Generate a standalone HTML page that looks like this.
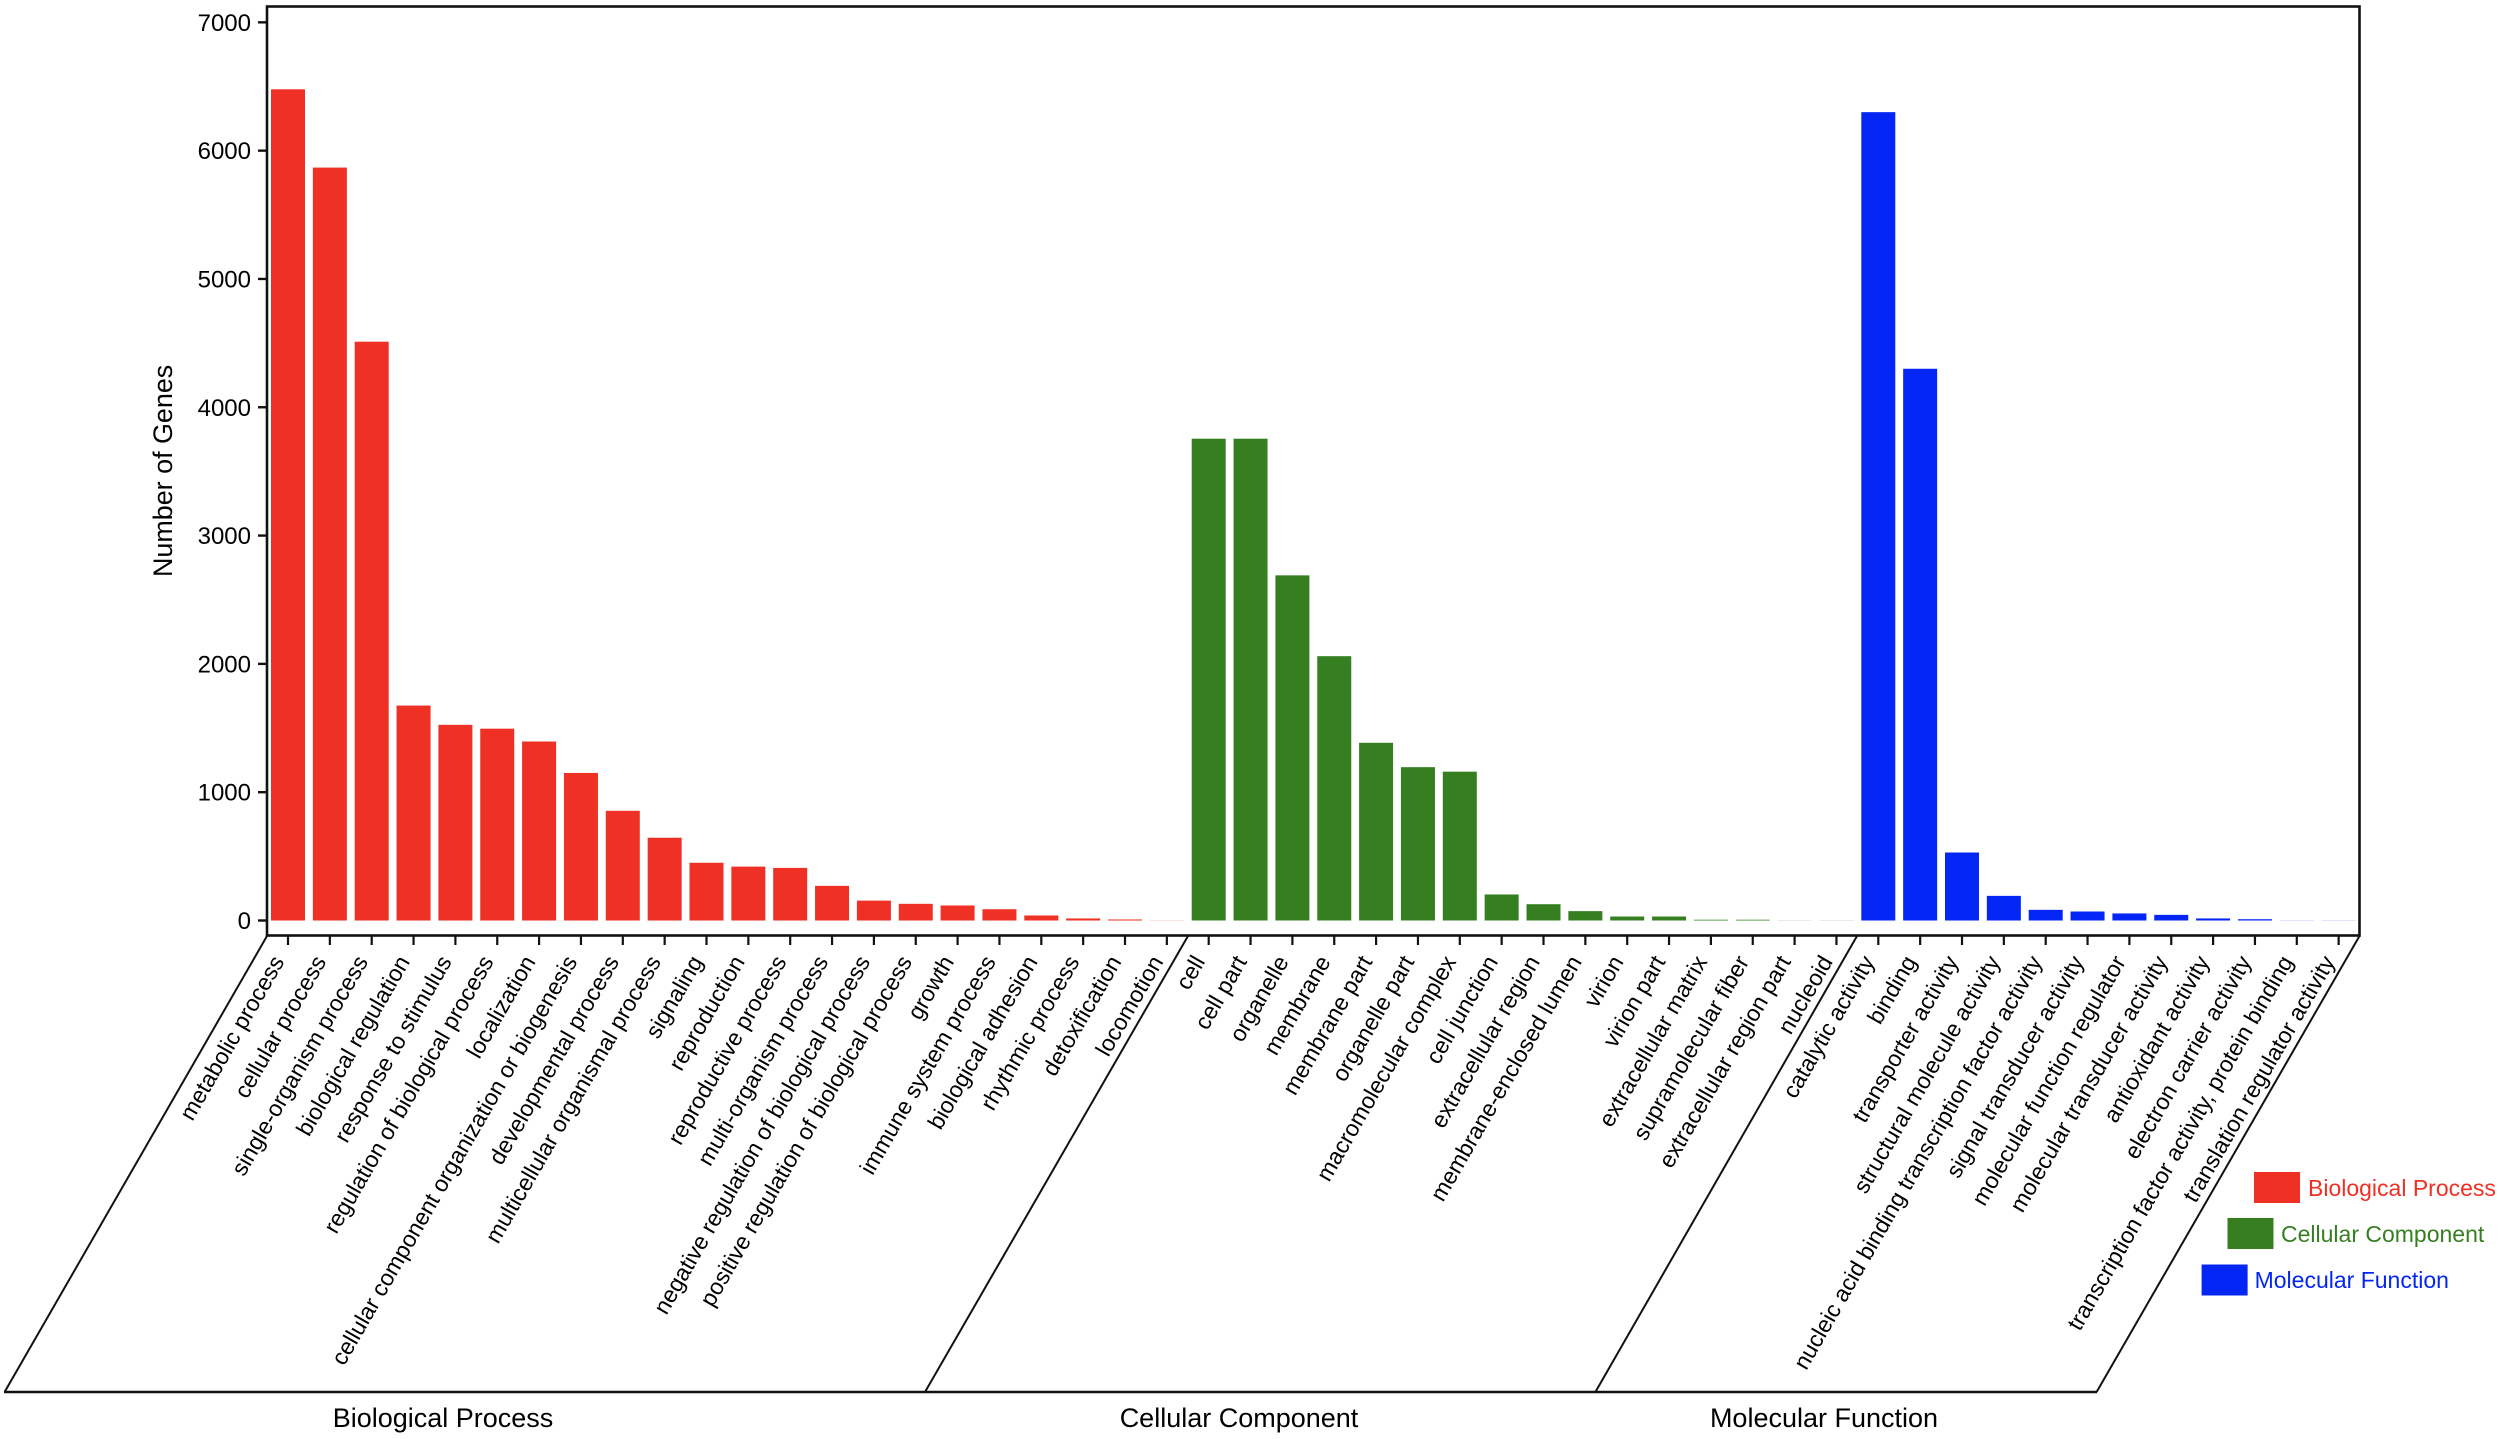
<!DOCTYPE html>
<html lang="en">
<head>
<meta charset="utf-8">
<title>GO classification bar chart</title>
<style>
html,body{margin:0;padding:0;background:#fff;}
svg{display:block;}
text{font-family:"Liberation Sans",Arial,sans-serif;fill:#000;}
</style>
</head>
<body>
<svg id="chart" xmlns="http://www.w3.org/2000/svg" width="2500" height="1439" viewBox="0 0 2500 1439">
  <rect x="0" y="0" width="2500" height="1439" fill="#fff"/>
  <g id="bars"></g>
  <rect x="267" y="6.5" width="2092.5" height="929" fill="none" stroke="#111" stroke-width="2.6"/>
  <g id="yaxis"></g>
  <g id="xaxis"></g>
  <g fill="none" stroke="#111" stroke-width="2">
    <line x1="267" y1="936" x2="4.6" y2="1392"/>
    <line x1="1188" y1="936" x2="925" y2="1392"/>
    <line x1="1857" y1="936" x2="1595.4" y2="1392"/>
    <line x1="2359.5" y1="936" x2="2096.6" y2="1392"/>
    <line x1="4" y1="1392" x2="2097" y2="1392" stroke-width="2.4"/>
  </g>
  <text transform="translate(172,577) rotate(-90)" font-size="26.9">Number of Genes</text>
  <text x="443" y="1427" font-size="27" text-anchor="middle">Biological Process</text>
  <text x="1239" y="1427" font-size="27" text-anchor="middle">Cellular Component</text>
  <text x="1824" y="1427" font-size="27" text-anchor="middle">Molecular Function</text>
  <g>
    <g>
      <rect x="2254" y="1172" width="46" height="31" fill="#ee3124"/>
      <text x="2308" y="1196" font-size="23" style="fill:#ee3124">Biological Process</text>
    </g>
    <g>
      <rect x="2227.5" y="1218" width="46" height="31" fill="#367f21"/>
      <text x="2281" y="1242" font-size="23" style="fill:#367f21">Cellular Component</text>
    </g>
    <g>
      <rect x="2201.6" y="1264.5" width="46" height="31" fill="#0426f5"/>
      <text x="2254.6" y="1288" font-size="23" style="fill:#0426f5">Molecular Function</text>
    </g>
  </g>
</svg>
<script>
var bpCategories = ["metabolic process","cellular process","single-organism process","biological regulation","response to stimulus","regulation of biological process","localization","cellular component organization or biogenesis","developmental process","multicellular organismal process","signaling","reproduction","reproductive process","multi-organism process","negative regulation of biological process","positive regulation of biological process","growth","immune system process","biological adhesion","rhythmic process","detoxification","locomotion"];
var bpValues = [6478,5868,4511,1675,1525,1495,1395,1150,855,645,450,420,410,270,155,130,117,88,39,16,8,1];
var ccCategories = ["cell","cell part","organelle","membrane","membrane part","organelle part","macromolecular complex","cell junction","extracellular region","membrane-enclosed lumen","virion","virion part","extracellular matrix","supramolecular fiber","extracellular region part","nucleoid"];
var ccValues = [3755,3755,2690,2060,1385,1195,1160,203,127,73,31,31,6,6,1,1];
var mfCategories = ["catalytic activity","binding","transporter activity","structural molecule activity","nucleic acid binding transcription factor activity","signal transducer activity","molecular function regulator","molecular transducer activity","antioxidant activity","electron carrier activity","transcription factor activity, protein binding","translation regulator activity"];
var mfValues = [6300,4300,530,192,83,70,55,44,16,10,1,1];
var yTickLabels = [0,1000,2000,3000,4000,5000,6000,7000];

var NS = "http://www.w3.org/2000/svg";
function xPos(i){ return 288 + i * 41.85; }
function yPos(v){ return 920.5 - v * 0.12831; }
function mk(tag, parent){
  var el = document.createElementNS(NS, tag);
  parent.appendChild(el);
  return el;
}
var barsG = document.getElementById("bars");
var xG = document.getElementById("xaxis");
var yG = document.getElementById("yaxis");

yTickLabels.forEach(function(t){
  var tick = mk("line", yG);
  
  
  tick.setAttribute("x1", 258);
  tick.setAttribute("x2", 267);
  tick.setAttribute("y1", yPos(t));
  tick.setAttribute("y2", yPos(t));
  tick.setAttribute("stroke", "#111");
  tick.setAttribute("stroke-width", 2.4);
  var label = mk("text", yG);
  
  
  label.setAttribute("x", 251);
  label.setAttribute("y", yPos(t) + 8.5);
  label.setAttribute("font-size", 24);
  label.setAttribute("text-anchor", "end");
  label.textContent = String(t);
});

var groups = [
  {cats: bpCategories, vals: bpValues, color: "#ee3124"},
  {cats: ccCategories, vals: ccValues, color: "#367f21"},
  {cats: mfCategories, vals: mfValues, color: "#0426f5"}
];
var idx = 0;
groups.forEach(function(g){
  g.cats.forEach(function(name, k){
    var cx = xPos(idx);
    var top = yPos(g.vals[k]);
    var bar = mk("rect", barsG);
    
    
    bar.setAttribute("x", cx - 17);
    bar.setAttribute("y", top);
    bar.setAttribute("width", 34);
    bar.setAttribute("height", yPos(0) - top);
    bar.setAttribute("fill", g.color);
    var tick = mk("line", xG);
    
    
    tick.setAttribute("x1", cx);
    tick.setAttribute("x2", cx);
    tick.setAttribute("y1", 936);
    tick.setAttribute("y2", 945);
    tick.setAttribute("stroke", "#111");
    tick.setAttribute("stroke-width", 2.2);
    var label = mk("text", xG);
    
    
    label.setAttribute("transform", "translate(" + (cx - 3) + ",961.5) rotate(-60)");
    label.setAttribute("font-size", 23);
    label.setAttribute("text-anchor", "end");
    label.textContent = name;
    idx++;
  });
});
</script>
</body>
</html>
